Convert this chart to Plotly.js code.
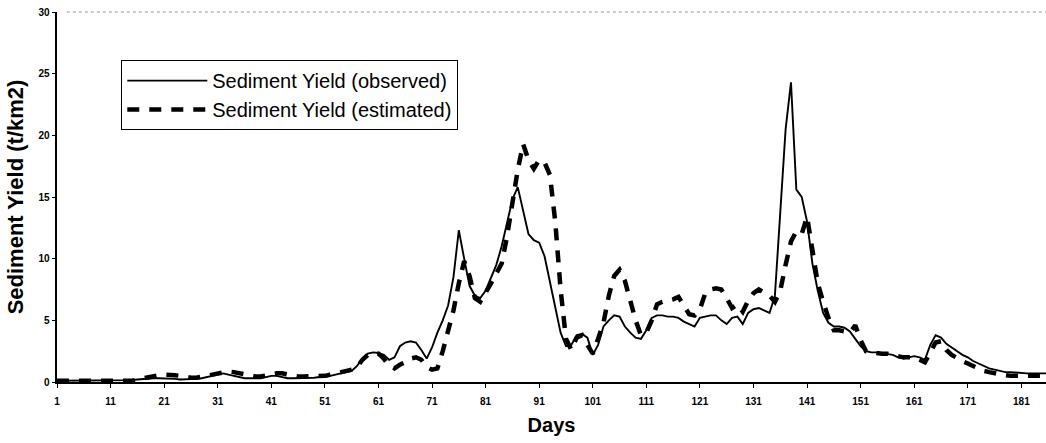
<!DOCTYPE html>
<html>
<head>
<meta charset="utf-8">
<script src="https://cdn.plot.ly/plotly-3.0.1.min.js"></script>
<style>html,body{margin:0;padding:0;background:#fff;}#chart{width:1046px;height:443px;}</style>
</head>
<body>
<div id="chart"></div>
<script>
// Days 1..186
var observed = [
0.1,0.1,0.1,0.1,0.1,0.1,0.1,0.1,0.1,0.1,
0.1,0.1,0.1,0.1,0.15,0.2,0.25,0.3,0.3,0.3,
0.3,0.3,0.25,0.2,0.2,0.2,0.25,0.3,0.4,0.5,
0.6,0.7,0.6,0.5,0.4,0.3,0.3,0.3,0.3,0.4,
0.5,0.5,0.4,0.3,0.3,0.3,0.3,0.3,0.35,0.4,
0.4,0.5,0.6,0.7,0.8,0.9,1.3,1.9,2.3,2.4,
2.35,2.2,1.8,2.0,2.9,3.2,3.3,3.2,2.6,1.9,
2.8,4.0,5.0,6.2,8.5,12.3,10.0,7.8,7.0,6.8,
7.4,8.4,9.5,11.0,13.0,14.8,15.8,14.0,12.0,11.5,
11.3,10.2,8.2,6.0,4.0,2.9,3.0,3.8,3.9,3.6,
2.2,3.0,4.5,5.0,5.4,5.3,4.5,4.0,3.6,3.5,
4.2,5.2,5.4,5.4,5.3,5.3,5.2,4.9,4.7,4.5,
5.2,5.3,5.4,5.4,5.0,4.7,5.2,5.3,4.7,5.6,
5.9,6.0,5.8,5.6,7.0,14.0,20.5,24.3,15.6,15.0,
13.0,9.6,7.4,5.6,4.8,4.5,4.5,4.4,4.1,3.5,
2.9,2.5,2.4,2.4,2.35,2.3,2.2,2.0,1.9,2.0,
2.1,2.0,1.8,3.0,3.8,3.6,3.1,2.8,2.5,2.2,
2.0,1.7,1.5,1.3,1.1,1.0,0.9,0.8,0.8,0.75,
0.7,0.7,0.7,0.7,0.7,0.7
];
var estimated = [
0.1,0.1,0.1,0.1,0.1,0.1,0.1,0.1,0.1,0.1,
0.1,0.1,0.1,0.1,0.1,0.2,0.3,0.4,0.5,0.55,
0.6,0.6,0.55,0.5,0.4,0.35,0.35,0.4,0.5,0.6,
0.7,0.8,0.85,0.8,0.7,0.6,0.5,0.45,0.45,0.55,
0.65,0.7,0.7,0.6,0.5,0.45,0.45,0.45,0.45,0.5,
0.5,0.6,0.7,0.8,0.9,1.0,1.2,1.8,2.2,2.35,
2.3,1.9,1.3,1.1,1.4,1.6,1.9,2.0,1.8,1.2,
1.0,1.1,2.5,4.2,5.8,8.0,9.8,8.6,6.8,6.5,
7.2,8.0,8.8,9.6,11.8,14.5,17.2,19.3,18.0,17.3,
18.0,17.8,16.8,13.0,7.5,3.5,2.6,3.6,3.8,3.0,
2.3,3.5,4.8,7.0,8.6,9.1,8.2,6.6,5.0,3.8,
4.0,5.0,6.3,6.5,6.6,6.7,6.9,6.2,5.5,5.4,
5.9,7.2,7.5,7.6,7.5,6.8,6.0,6.3,5.7,6.6,
7.2,7.5,7.3,7.0,6.5,7.4,9.5,11.4,12.2,12.0,
13.4,10.5,8.0,6.5,5.2,4.2,4.2,4.1,4.0,4.6,
3.4,2.5,2.4,2.35,2.3,2.3,2.2,2.1,2.0,2.0,
2.0,1.8,1.6,2.4,3.2,3.3,2.6,2.2,1.9,1.7,
1.5,1.3,1.1,0.9,0.8,0.7,0.6,0.55,0.5,0.5,
0.5,0.5,0.5,0.5,0.5,0.5
];
var days = [];
for (var i = 0; i < observed.length; i++) days.push(i + 1);
var xTickVals = [1,11,21,31,41,51,61,71,81,91,101,111,121,131,141,151,161,171,181];
var yTickVals = [0,5,10,15,20,25,30];
var seriesNames = ['Sediment Yield (observed)', 'Sediment Yield (estimated)'];

var traces = [
  {x: days, y: observed, name: seriesNames[0], type: 'scatter', mode: 'lines',
   line: {color: '#000', width: 1.9, shape: 'linear'}},
  {x: days, y: estimated, name: seriesNames[1], type: 'scatter', mode: 'lines',
   line: {color: '#000', width: 4.5, dash: '12px,10px'}}
];

var layout = {
  width: 1046, height: 443,
  margin: {l: 57, r: 0, t: 12, b: 61},
  paper_bgcolor: '#fff', plot_bgcolor: '#fff',
  font: {family: 'Liberation Sans, Arial, sans-serif', color: '#000'},
  showlegend: true,
  legend: {
    x: 0.065, y: 0.87, xanchor: 'left', yanchor: 'top',
    bgcolor: '#fff', bordercolor: '#000', borderwidth: 1,
    font: {size: 20, family: 'Liberation Sans, Arial, sans-serif', color: '#000'},
    itemwidth: 80, tracegroupgap: 0
  },
  xaxis: {
    range: [1, 185.6], tickmode: 'array', tickvals: xTickVals,
    ticktext: xTickVals.map(String),
    ticks: 'outside', ticklen: 4, tickcolor: '#000', tickwidth: 1,
    showline: true, linecolor: '#000', linewidth: 2,
    showgrid: false, zeroline: false,
    tickfont: {size: 10, family: 'Liberation Sans, Arial, sans-serif', weight: 'bold'},
    ticklabelstandoff: 5,
    title: {text: '<b>Days</b>', font: {size: 20, family: 'Liberation Sans, Arial, sans-serif'}, standoff: 12}
  },
  yaxis: {
    range: [0, 30], tickmode: 'array', tickvals: yTickVals,
    ticks: 'outside', ticklen: 3, tickcolor: '#000', tickwidth: 1,
    showline: true, linecolor: '#000', linewidth: 2.5,
    showgrid: false, zeroline: false,
    tickfont: {size: 10, family: 'Liberation Sans, Arial, sans-serif', weight: 'bold'},
    title: {text: '<b>Sediment Yield (t/km2)</b>', font: {size: 22, family: 'Liberation Sans, Arial, sans-serif'}, standoff: 9}
  },
  shapes: [
    {type: 'line', xref: 'paper', yref: 'paper', x0: 0.01, x1: 1, y0: 1, y1: 1,
     line: {color: '#999', width: 1, dash: 'dot'}}
  ]
};

Plotly.newPlot('chart', traces, layout, {displayModeBar: false, staticPlot: true});
</script>
</body>
</html>
